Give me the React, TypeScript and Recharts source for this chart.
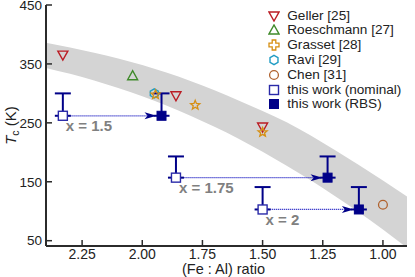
import React from "react";
import {
  Area,
  ComposedChart,
  ErrorBar,
  Legend,
  ReferenceLine,
  Scatter,
  XAxis,
  YAxis,
} from "recharts";

// grey guide band (upper / lower edge read at these ratios)
const bandX = [2.4, 2.2, 2.0, 1.8, 1.6, 1.4, 1.2, 1.0, 0.9];
const bandHigh = [386, 369, 348, 321, 288, 251, 204, 152, 125];
const bandLow = [343, 322, 295, 262, 223, 177, 126, 69, 38];

const gellerX = [2.33, 1.86, 1.5];
const gellerY = [365, 296, 243];
const roeschmannX = [2.04];
const roeschmannY = [330];
const grassetX = [1.945, 1.78, 1.5];
const grassetY = [298, 280, 234];
const raviX = [1.95];
const raviY = [300];
const chenX = [1.0];
const chenY = [111];

const nominalX = [2.33, 1.86, 1.5];
const nominalY = [262, 157, 103];
const rbsX = [1.92, 1.23, 1.1];
const rbsY = [262, 157, 103];
const errUp = [38, 36, 38];
const compLabels = ["x = 1.5", "x = 1.75", "x = 2"];

const xTicks = [2.25, 2.0, 1.75, 1.5, 1.25, 1.0];
const yTicks = [50, 150, 250, 350, 450];
const legendNames = [
  "Geller [25]",
  "Roeschmann [27]",
  "Grasset [28]",
  "Ravi [29]",
  "Chen [31]",
  "this work (nominal)",
  "this work (RBS)",
];

const RED = "#bb1c24";
const GREEN = "#3f8a2a";
const ORANGE = "#d68f12";
const CYAN = "#1f9cc4";
const BROWN = "#b0622e";
const NAVY = "#000088";
const OPEN_BLUE = "#2a2aa8";
const AXIS = "#2b2b2b";
const FONT = "Arial, 'Liberation Sans', Helvetica, sans-serif";

const pts = (xs: number[], ys: number[]) => xs.map((x, i) => ({ x, y: ys[i] }));
const bandData = bandX.map((x, i) => ({ x, range: [bandLow[i], bandHigh[i]] }));
const nominalData = nominalX.map((x, i) => ({ x, y: nominalY[i], label: compLabels[i] }));
const rbsData = pts(rbsX, rbsY);
const errData = [
  ...nominalX.map((x, i) => ({ x, y: nominalY[i], err: [0, errUp[i]] })),
  ...rbsX.map((x, i) => ({ x, y: rbsY[i], err: [0, errUp[i]] })),
];

// marker glyphs, shared by plot and legend
const downTri = (cx: number, cy: number) => (
  <polygon
    points={`${cx - 5},${cy - 4} ${cx + 5},${cy - 4} ${cx},${cy + 5}`}
    fill="none"
    stroke={RED}
    strokeWidth={1.4}
  />
);
const upTri = (cx: number, cy: number) => (
  <polygon
    points={`${cx - 5},${cy + 4} ${cx + 5},${cy + 4} ${cx},${cy - 5}`}
    fill="none"
    stroke={GREEN}
    strokeWidth={1.4}
  />
);
const star = (cx: number, cy: number) => {
  const p: string[] = [];
  for (let k = 0; k < 10; k++) {
    const r = k % 2 === 0 ? 4.8 : 2.1;
    const a = -Math.PI / 2 + (k * Math.PI) / 5;
    p.push(`${cx + r * Math.cos(a)},${cy + r * Math.sin(a)}`);
  }
  return <polygon points={p.join(" ")} fill="none" stroke={ORANGE} strokeWidth={1.3} />;
};
const cross = (cx: number, cy: number) => {
  const a = 1.8;
  const b = 5;
  const d = `M${cx - a},${cy - b}H${cx + a}V${cy - a}H${cx + b}V${cy + a}H${cx + a}V${cy + b}H${cx - a}V${cy + a}H${cx - b}V${cy - a}H${cx - a}Z`;
  return <path d={d} fill="none" stroke={ORANGE} strokeWidth={1.3} />;
};
const hexagon = (cx: number, cy: number) => {
  const p: string[] = [];
  for (let k = 0; k < 6; k++) {
    const a = -Math.PI / 2 + (k * Math.PI) / 3;
    p.push(`${cx + 4.6 * Math.cos(a)},${cy + 4.6 * Math.sin(a)}`);
  }
  return <polygon points={p.join(" ")} fill="none" stroke={CYAN} strokeWidth={1.4} />;
};
const circle = (cx: number, cy: number) => (
  <circle cx={cx} cy={cy} r={4.4} fill="none" stroke={BROWN} strokeWidth={1.3} />
);
const openSquare = (cx: number, cy: number) => (
  <rect x={cx - 4.5} y={cy - 4.5} width={9} height={9} fill="#fff" stroke={OPEN_BLUE} strokeWidth={1.4} />
);
const filledSquare = (cx: number, cy: number) => (
  <rect x={cx - 4.5} y={cy - 4.5} width={9} height={9} fill={NAVY} stroke={NAVY} strokeWidth={1} />
);

const legendGlyphs = [downTri, upTri, cross, hexagon, circle, openSquare, filledSquare];

const NominalShape = (p: any) => (
  <g>
    {openSquare(p.cx, p.cy)}
    <text
      x={p.cx + 3}
      y={p.cy + 15.5}
      fill="#808080"
      fontSize={15}
      fontWeight="bold"
      fontFamily={FONT}
    >
      {p.payload.label}
    </text>
  </g>
);

const Arrow = (p: any) => {
  const { x1, y1, x2, y2 } = p;
  const dir = x2 > x1 ? 1 : -1;
  const start = x1 + dir * 5.5;
  const tip = x2 - dir * 5;
  return (
    <g>
      <line
        x1={start}
        y1={y1}
        x2={tip - dir * 9}
        y2={y2}
        stroke="#3030c8"
        strokeWidth={1.3}
        strokeDasharray="1.2 0.8"
      />
      <polygon
        points={`${tip},${y2} ${tip - dir * 12},${y2 - 3.5} ${tip - dir * 9},${y2} ${tip - dir * 12},${y2 + 3.5}`}
        fill={NAVY}
      />
    </g>
  );
};

const XTick = ({ x, y, payload }: any) => (
  <g>
    <line x1={x} x2={x} y1={y - 2} y2={y - 8} stroke={AXIS} strokeWidth={1.5} />
    <text x={x} y={y + 11} textAnchor="middle" fontSize={14} fill="#222" fontFamily={FONT}>
      {Number(payload.value).toFixed(2)}
    </text>
  </g>
);

const YTick = ({ x, y, payload }: any) => (
  <g>
    <line x1={x + 4} x2={x + 10} y1={y} y2={y} stroke={AXIS} strokeWidth={1.5} />
    <text x={x} y={y + 4.8} textAnchor="end" fontSize={13.5} fill="#222" fontFamily={FONT}>
      {payload.value}
    </text>
  </g>
);

const YLabel = ({ viewBox }: any) => {
  const x = 16;
  const y = viewBox.y + viewBox.height / 2;
  return (
    <text
      x={x}
      y={y}
      transform={`rotate(-90, ${x}, ${y})`}
      textAnchor="middle"
      fontSize={15}
      fill="#222"
      fontFamily={FONT}
    >
      <tspan fontStyle="italic">T</tspan>
      <tspan fontSize={10.5} dy={3}>c</tspan>
      <tspan dy={-3}> (K)</tspan>
    </text>
  );
};

const XLabel = ({ viewBox }: any) => (
  <text
    x={viewBox.x + viewBox.width / 2 - 3}
    y={viewBox.y + 27.5}
    textAnchor="middle"
    fontSize={14.5}
    fill="#222"
    fontFamily={FONT}
  >
    (Fe : Al) ratio
  </text>
);

const LegendBox = () => (
  <div style={{ fontFamily: FONT, fontSize: 13.6, color: "#222" }}>
    {legendNames.map((name, i) => (
      <div key={name} style={{ display: "flex", alignItems: "center", height: 14.77 }}>
        <svg width={12} height={12} style={{ marginRight: 7, flex: "none" }}>
          {legendGlyphs[i](6, 6)}
        </svg>
        <span style={{ whiteSpace: "nowrap", lineHeight: "14px" }}>{name}</span>
      </div>
    ))}
  </div>
);

export default function App() {
  return (
    <div style={{ position: "absolute", left: 0, top: 0, background: "#fff" }}>
      <ComposedChart
        width={415}
        height={277}
        data={bandData}
        margin={{ top: 5, right: 8, bottom: 0, left: 0 }}
      >
        <XAxis
          dataKey="x"
          type="number"
          domain={[0.9, 2.4]}
          reversed
          allowDataOverflow
          ticks={xTicks}
          interval={0}
          height={31}
          tickSize={0}
          tickMargin={2}
          tickLine={false}
          tick={<XTick />}
          axisLine={{ stroke: AXIS, strokeWidth: 2 }}
          label={<XLabel />}
        />
        <XAxis
          xAxisId="top"
          orientation="top"
          type="number"
          domain={[0.9, 2.4]}
          height={0}
          tick={false}
          tickLine={false}
          axisLine={{ stroke: AXIS, strokeWidth: 2 }}
        />
        <YAxis
          type="number"
          domain={[41, 450]}
          allowDataOverflow
          ticks={yTicks}
          interval={0}
          width={46}
          tickSize={0}
          tickMargin={4}
          tickLine={false}
          tick={<YTick />}
          axisLine={{ stroke: AXIS, strokeWidth: 2 }}
          label={<YLabel />}
        />
        <YAxis
          yAxisId="right"
          orientation="right"
          type="number"
          domain={[41, 450]}
          width={0}
          tick={false}
          tickLine={false}
          axisLine={{ stroke: AXIS, strokeWidth: 2 }}
        />
        <Area
          dataKey="range"
          type="monotone"
          fill="#d4d4d4"
          fillOpacity={1}
          stroke="none"
          dot={false}
          activeDot={false}
          isAnimationActive={false}
        />
        {nominalX.map((nx, i) => (
          <ReferenceLine
            key={`arrow-${i}`}
            segment={[
              { x: nx, y: nominalY[i] },
              { x: rbsX[i], y: rbsY[i] },
            ]}
            shape={Arrow}
          />
        ))}
        <Scatter data={errData} dataKey="y" shape={() => <g />} isAnimationActive={false}>
          <ErrorBar dataKey="err" direction="y" width={8} strokeWidth={2} stroke={NAVY} />
        </Scatter>
        <Scatter data={pts(gellerX, gellerY)} dataKey="y" shape={(p: any) => downTri(p.cx, p.cy)} isAnimationActive={false} />
        <Scatter data={pts(roeschmannX, roeschmannY)} dataKey="y" shape={(p: any) => upTri(p.cx, p.cy)} isAnimationActive={false} />
        <Scatter data={pts(raviX, raviY)} dataKey="y" shape={(p: any) => hexagon(p.cx, p.cy)} isAnimationActive={false} />
        <Scatter data={pts(grassetX, grassetY)} dataKey="y" shape={(p: any) => star(p.cx, p.cy)} isAnimationActive={false} />
        <Scatter data={pts(chenX, chenY)} dataKey="y" shape={(p: any) => circle(p.cx, p.cy)} isAnimationActive={false} />
        <Scatter data={nominalData} dataKey="y" shape={NominalShape} isAnimationActive={false} />
        <Scatter data={rbsData} dataKey="y" shape={(p: any) => filledSquare(p.cx, p.cy)} isAnimationActive={false} />
        <Legend
          content={<LegendBox />}
          layout="vertical"
          align="center"
          verticalAlign="middle"
          wrapperStyle={{ top: 8.3, left: 268.3, width: 146 }}
        />
      </ComposedChart>
    </div>
  );
}
